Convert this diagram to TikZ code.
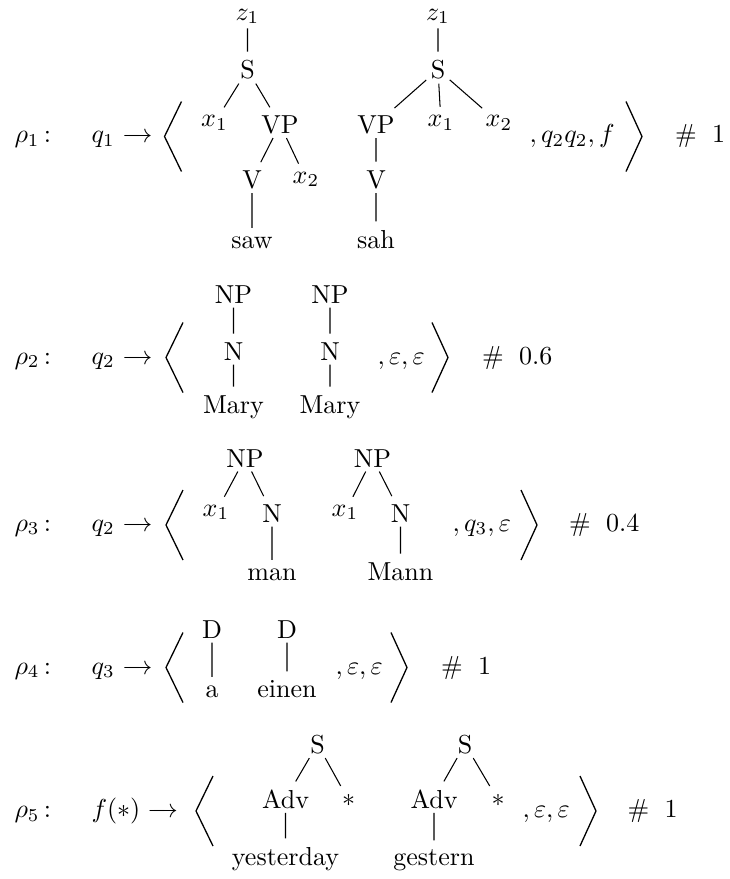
\documentclass[tikz,border=0pt]{standalone}
\newcommand{\myarrow}{\mathrel{\hbox to 1.17em{\rightarrowfill}}}
\begin{document}
\begin{tikzpicture}[x=1pt,y=-1pt,
  every node/.style={scale=2.6},
  t/.style={anchor=base, inner sep=1.54pt},
  lab/.style={anchor=base west, inner sep=0pt},
  edge/.style={line width=1.05pt, shorten >=4pt},
  br/.style={line width=1.3pt, line join=miter}]
\useasboundingbox (0,0) rectangle (730,879);

% ---------- rho 1 ----------
\node[lab] (r1) at (14,142.5) {$\rho_1$\,:};
\node[lab] (q1) at (91,142.5) {$q_1 \myarrow$};
\draw[br] (181.5,101.5) -- (164.5,136.5) -- (181.5,171.5);
\node[t] (a1z) at (247.5,20) {$z_1$};
\node[t] (a1S) at (247.5,78.5) {S};
\node[t] (a1x1) at (214.5,126.5) {$x_1$};
\node[t] (a1VP) at (280,133) {VP};
\node[t] (a1V) at (252,188) {V};
\node[t] (a1x2) at (306,183) {$x_2$};
\node[t] (a1saw) at (252,248) {saw};
\draw[edge] (a1z) -- (a1S);
\draw[edge] (a1S) -- (a1x1);
\draw[edge] (a1S) -- (a1VP);
\draw[edge] (a1VP) -- (a1V);
\draw[edge] (a1VP) -- (a1x2);
\draw[edge] (a1V) -- (a1saw);
\node[t] (b1z) at (438,20) {$z_1$};
\node[t] (b1S) at (438,78.5) {S};
\node[t] (b1VP) at (376,133) {VP};
\node[t] (b1x1) at (441,126.5) {$x_1$};
\node[t] (b1x2) at (499,126.5) {$x_2$};
\node[t] (b1V) at (376,188) {V};
\node[t] (b1sah) at (376,248) {sah};
\draw[edge] (b1z) -- (b1S);
\draw[edge] (b1S) -- (b1VP);
\draw[edge] (b1S) -- (b1x1);
\draw[edge] (b1S) -- (b1x2);
\draw[edge] (b1VP) -- (b1V);
\draw[edge] (b1V) -- (b1sah);
\node[lab] (c1) at (529,142.5) {$,q_2q_2,f$};
\draw[br] (626,101.5) -- (642,136.5) -- (626,171.5);
\node[lab] (h1) at (674.5,142.5) {\#};
\node[lab] (w1) at (711.5,142.5) {1};

% ---------- rho 2 ----------
\node[lab] (r2) at (14,364) {$\rho_2$\,:};
\node[lab] (q2) at (91,364) {$q_2 \myarrow$};
\draw[br] (183,322.5) -- (166,357.5) -- (183,392.5);
\node[t] (a2NP) at (233.5,303) {NP};
\node[t] (a2N) at (233.5,360) {N};
\node[t] (a2M) at (233.5,413) {Mary};
\draw[edge] (a2NP) -- (a2N);
\draw[edge] (a2N) -- (a2M);
\node[t] (b2NP) at (330,303) {NP};
\node[t] (b2N) at (330,360) {N};
\node[t] (b2M) at (330,413) {Mary};
\draw[edge] (b2NP) -- (b2N);
\draw[edge] (b2N) -- (b2M);
\node[lab] (c2) at (377,364) {$,\varepsilon,\varepsilon$};
\draw[br] (432,322.5) -- (448,357.5) -- (432,392.5);
\node[lab] (h2) at (481.5,364) {\#};
\node[lab] (w2) at (518.5,364) {0.6};

% ---------- rho 3 ----------
\node[lab] (r3) at (14,531) {$\rho_3$\,:};
\node[lab] (q3) at (91,531) {$q_2 \myarrow$};
\draw[br] (183,490) -- (166,525) -- (183,560);
\node[t] (a3NP) at (245,467) {NP};
\node[t] (a3x1) at (216,516) {$x_1$};
\node[t] (a3N) at (272,522) {N};
\node[t] (a3m) at (272,580) {man};
\draw[edge] (a3NP) -- (a3x1);
\draw[edge] (a3NP) -- (a3N);
\draw[edge] (a3N) -- (a3m);
\node[t] (b3NP) at (372.5,467) {NP};
\node[t] (b3x1) at (345,516) {$x_1$};
\node[t] (b3N) at (400.5,522) {N};
\node[t] (b3m) at (400.5,580) {Mann};
\draw[edge] (b3NP) -- (b3x1);
\draw[edge] (b3NP) -- (b3N);
\draw[edge] (b3N) -- (b3m);
\node[lab] (c3) at (452,531) {$,q_3,\varepsilon$};
\draw[br] (521,490) -- (537,525) -- (521,560);
\node[lab] (h3) at (568.5,531) {\#};
\node[lab] (w3) at (605.5,531) {0.4};

% ---------- rho 4 ----------
\node[lab] (r4) at (14,674) {$\rho_4$\,:};
\node[lab] (q4) at (91,674) {$q_3 \myarrow$};
\draw[br] (183,632.5) -- (166,667.5) -- (183,702.5);
\node[t] (a4D) at (212,638) {D};
\node[t] (a4a) at (212,697) {a};
\draw[edge] (a4D) -- (a4a);
\node[t] (b4D) at (287,638) {D};
\node[t] (b4e) at (287,697) {einen};
\draw[edge] (b4D) -- (b4e);
\node[lab] (c4) at (335,674) {$,\varepsilon,\varepsilon$};
\draw[br] (391,632.5) -- (407,667.5) -- (391,702.5);
\node[lab] (h4) at (440.5,674) {\#};
\node[lab] (w4) at (477.5,674) {1};

% ---------- rho 5 ----------
\node[lab] (r5) at (14,817.5) {$\rho_5$\,:};
\node[lab] (q5) at (91,817.5) {$f(*) \myarrow$};
\draw[br] (213,776) -- (196,811) -- (213,846);
\node[t] (a5S) at (317.5,753) {S};
\node[t] (a5A) at (285.5,808) {Adv};
\node[t, anchor=center] (a5s) at (348.5,800) {$*$};
\node[t] (a5y) at (285.5,865) {yesterday};
\draw[edge] (a5S) -- (a5A);
\draw[edge] (a5S) -- (a5s);
\draw[edge] (a5A) -- (a5y);
\node[t] (b5S) at (465,753) {S};
\node[t] (b5A) at (434,808) {Adv};
\node[t, anchor=center] (b5s) at (498,800) {$*$};
\node[t] (b5g) at (434,865) {gestern};
\draw[edge] (b5S) -- (b5A);
\draw[edge] (b5S) -- (b5s);
\draw[edge] (b5A) -- (b5g);
\node[lab] (c5) at (522,817.5) {$,\varepsilon,\varepsilon$};
\draw[br] (580,776) -- (596,811) -- (580,846);
\node[lab] (h5) at (627,817.5) {\#};
\node[lab] (w5) at (664,817.5) {1};
\end{tikzpicture}
\end{document}
